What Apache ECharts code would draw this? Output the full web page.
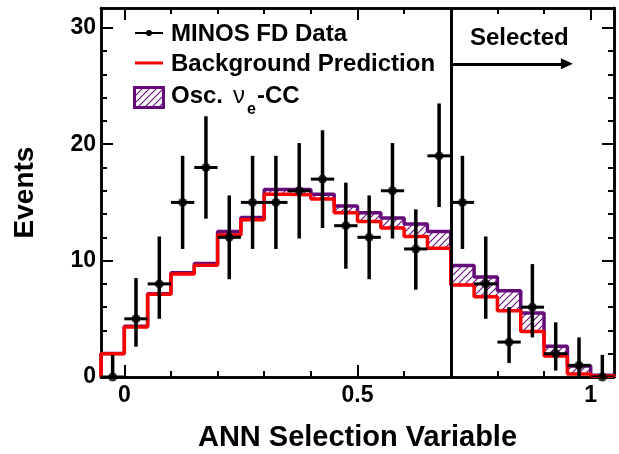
<!DOCTYPE html>
<html><head><meta charset="utf-8">
<script src="https://cdn.jsdelivr.net/npm/echarts@6/dist/echarts.min.js"></script>
<style>html,body{margin:0;padding:0;background:#fff}#c{width:619px;height:454px}</style>
</head><body><div id="c"></div>
<script>
// ---- data ----
const binEdges = [-0.05, 0.00, 0.05, 0.10, 0.15, 0.20, 0.25, 0.30, 0.35, 0.40, 0.45, 0.50,
                  0.55, 0.60, 0.65, 0.70, 0.75, 0.80, 0.85, 0.90, 0.95, 1.00, 1.05];
const background = [2.0, 4.3, 7.1, 8.85, 9.6, 12.2, 13.5, 15.7, 15.65, 15.3, 14.1,
                    13.35, 12.8, 12.07, 11.07, 7.9, 6.9, 5.7, 3.9, 1.8, 0.26, 0.08];
const totalPred = [2.02, 4.35, 7.15, 8.95, 9.75, 12.5, 13.7, 16.1, 16.1, 15.7, 14.7,
                   14.1, 13.65, 13.15, 12.5, 9.57, 8.6, 7.4, 5.5, 2.65, 0.95, 0.15];
const dataCounts = [0, 5, 8, 15, 18, 12, 15, 15, 16, 17, 13, 12, 16, 11, 19, 15, 8, 3, 6, 2, 1, 0];
const dataLow    = [0, 2.6, 5.0, 11.0, 13.6, 8.4, 11.0, 11.0, 11.9, 12.8, 9.3, 8.4, 11.9, 7.5, 14.6,
                    11.0, 5.0, 1.2, 3.4, 0.55, 0.05, 0];
const dataHigh   = [1.9, 8.5, 12.07, 19.0, 22.4, 15.6, 19.0, 19.0, 20.1, 21.2, 16.7, 15.6, 20.1, 14.4,
                    23.5, 19.0, 12.07, 6.0, 9.7, 4.7, 3.4, 1.9];
const xMajorTicks = [0, 0.5, 1];
const xMinorTicks = [0.1, 0.2, 0.3, 0.4, 0.6, 0.7, 0.8, 0.9];
const yMajorTicks = [0, 10, 20, 30];
const yMinorTicks = [2, 4, 6, 8, 12, 14, 16, 18, 22, 24, 26, 28];
const xRange = [-0.05, 1.05];
const yRange = [0, 31.7];
const cutValue = 0.7;
const arrowLevel = 26.9;
const arrowEnd = 0.949;

// ---- styling ----
const PURPLE = '#660a7a';
const RED = '#ff0000';
const FAM = '"Liberation Sans", Arial, Helvetica, sans-serif';

function makeHatch() {
  const s = 7;
  const c = document.createElement('canvas'); c.width = s; c.height = s;
  const g = c.getContext('2d');
  g.strokeStyle = PURPLE; g.lineWidth = 1.1;
  g.beginPath();
  g.moveTo(-1, s + 1); g.lineTo(s + 1, -1);
  g.moveTo(-1, 1); g.lineTo(1, -1);
  g.moveTo(s - 1, s + 1); g.lineTo(s + 1, s - 1);
  g.stroke();
  return c;
}
const hatch = makeHatch();
const hatchFill = {image: hatch, repeat: 'repeat'};

function stepData(vals) {
  const pts = [[binEdges[0], 0]];
  for (let i = 0; i < vals.length; i++) pts.push([binEdges[i], vals[i]]);
  pts.push([binEdges[binEdges.length - 1], vals[vals.length - 1]]);
  pts.push([binEdges[binEdges.length - 1], 0]);
  return pts;
}

const nBins = background.length;
const hatchData = [], errData = [], pointData = [];
for (let i = 0; i < nBins; i++) {
  hatchData.push([binEdges[i], binEdges[i + 1], background[i], totalPred[i]]);
  const xc = (binEdges[i] + binEdges[i + 1]) / 2;
  errData.push([binEdges[i], binEdges[i + 1], dataCounts[i], dataLow[i], dataHigh[i]]);
  pointData.push([xc, dataCounts[i]]);
}

function xAxisDef(pos, ticks, len, withLabels) {
  return {
    type: 'value', position: pos, min: xRange[0], max: xRange[1],
    axisLine: {show: true, onZero: false, lineStyle: {color: '#000', width: 2.5}},
    axisTick: {show: true, inside: true, length: len, customValues: ticks, lineStyle: {color: '#000', width: 2}},
    axisLabel: withLabels ? {show: true, customValues: ticks, margin: 7, color: '#000',
      fontFamily: FAM, fontWeight: 'bold', fontSize: 23,
      formatter: v => String(v)} : {show: false},
    splitLine: {show: false}
  };
}
function yAxisDef(pos, ticks, len, withLabels) {
  return {
    type: 'value', position: pos, min: yRange[0], max: yRange[1],
    axisLine: {show: true, onZero: false, lineStyle: {color: '#000', width: 2.5}},
    axisTick: {show: true, inside: true, length: len, customValues: ticks, lineStyle: {color: '#000', width: 2}},
    axisLabel: withLabels ? {show: true, customValues: ticks, margin: 5, color: '#000',
      fontFamily: FAM, fontWeight: 'bold', fontSize: 23} : {show: false},
    splitLine: {show: false}
  };
}

const xa0 = xAxisDef('bottom', xMajorTicks, 12, true);
xa0.name = 'ANN Selection Variable';
xa0.nameLocation = 'middle';
xa0.nameGap = 46;
xa0.nameTextStyle = {color: '#000', fontFamily: FAM, fontWeight: 'bold', fontSize: 29};
const ya0 = yAxisDef('left', yMajorTicks, 12, true);
ya0.name = 'Events';
ya0.nameLocation = 'middle';
ya0.nameRotate = 90;
ya0.nameGap = 62;
ya0.nameTextStyle = {color: '#000', fontFamily: FAM, fontWeight: 'bold', fontSize: 28};

const legendFont = 'bold 24px ' + FAM;
function txt(text, x, y, font) {
  return {type: 'text', x: x, y: y, silent: true,
    style: {text: text, font: font, fill: '#000', align: 'left', verticalAlign: 'middle',
            textAlign: 'left', textVerticalAlign: 'middle'}};
}

const option = {
  animation: false,
  backgroundColor: '#fff',
  grid: {left: 101, right: 5, top: 8, bottom: 77, containLabel: false, outerBoundsMode: 'none'},
  xAxis: [xa0, xAxisDef('bottom', xMinorTicks, 6, false),
          xAxisDef('top', xMajorTicks, 12, false), xAxisDef('top', xMinorTicks, 6, false)],
  yAxis: [ya0, yAxisDef('left', yMinorTicks, 6, false),
          yAxisDef('right', yMajorTicks, 12, false), yAxisDef('right', yMinorTicks, 6, false)],
  series: [
    {
      name: 'Osc. nue-CC', type: 'custom', xAxisIndex: 0, yAxisIndex: 0, z: 2, clip: true,
      data: hatchData, encode: {x: [0, 1], y: [2, 3]},
      renderItem: function (params, api) {
        const a = api.coord([api.value(0), api.value(3)]);
        const b = api.coord([api.value(1), api.value(2)]);
        return {type: 'rect', shape: {x: a[0], y: a[1], width: b[0] - a[0], height: b[1] - a[1]},
                style: {fill: hatchFill}};
      }
    },
    {
      name: 'Total', type: 'line', step: 'end', xAxisIndex: 0, yAxisIndex: 0, z: 3,
      data: stepData(totalPred), symbol: 'none', showSymbol: false,
      lineStyle: {color: PURPLE, width: 3.5}
    },
    {
      name: 'Background Prediction', type: 'line', step: 'end', xAxisIndex: 0, yAxisIndex: 0, z: 4,
      data: stepData(background), symbol: 'none', showSymbol: false,
      lineStyle: {color: RED, width: 3.5}
    },
    {
      name: 'errors', type: 'custom', xAxisIndex: 0, yAxisIndex: 0, z: 5, clip: true,
      data: errData, encode: {x: [0, 1], y: [2, 3, 4]},
      renderItem: function (params, api) {
        const x0 = api.value(0), x1 = api.value(1), xc = (x0 + x1) / 2;
        const v = api.value(2), lo = api.value(3), hi = api.value(4);
        const pl = api.coord([xc, lo]), ph = api.coord([xc, hi]);
        const l = api.coord([x0, v]), r = api.coord([x1, v]);
        return {type: 'group', children: [
          {type: 'line', shape: {x1: pl[0], y1: pl[1], x2: ph[0], y2: ph[1]}, style: {stroke: '#000', lineWidth: 3.5}},
          {type: 'line', shape: {x1: l[0], y1: l[1], x2: r[0], y2: r[1]}, style: {stroke: '#000', lineWidth: 3}}
        ]};
      }
    },
    {
      name: 'MINOS FD Data', type: 'scatter', xAxisIndex: 0, yAxisIndex: 0, z: 6,
      data: pointData, symbol: 'circle', symbolSize: 9, itemStyle: {color: '#000'},
      markLine: {
        silent: true, symbol: ['none', 'none'], animation: false,
        label: {show: false},
        lineStyle: {color: '#000', width: 3, type: 'solid'},
        emphasis: {disabled: true},
        data: [
          {xAxis: cutValue},
          [{coord: [cutValue, arrowLevel], symbol: 'none'},
           {coord: [arrowEnd, arrowLevel], symbol: 'triangle', symbolSize: [11, 12]}]
        ]
      }
    }
  ],
  graphic: [
    {type: 'line', silent: true, shape: {x1: 135, y1: 33, x2: 163, y2: 33}, style: {stroke: '#000', lineWidth: 2}},
    {type: 'circle', silent: true, shape: {cx: 149, cy: 33, r: 3}, style: {fill: '#000'}},
    {type: 'line', silent: true, shape: {x1: 135, y1: 63, x2: 163, y2: 63}, style: {stroke: RED, lineWidth: 3}},
    {type: 'rect', silent: true, shape: {x: 134.5, y: 87.5, width: 29, height: 20}, style: {fill: hatchFill, stroke: PURPLE, lineWidth: 3}},
    txt('MINOS FD Data', 171, 34, legendFont),
    txt('Background Prediction', 171, 64, legendFont),
    txt('Osc.', 171, 96, legendFont),
    txt('\u03bd', 233, 96, 'normal 24px ' + FAM),
    txt('e', 247, 110, 'bold 16px ' + FAM),
    txt('-CC', 257, 96, legendFont),
    txt('Selected', 470, 38, legendFont)
  ]
};

const chart = echarts.init(document.getElementById('c'), null, {renderer: 'canvas'});
chart.setOption(option);
</script>
</body></html>
